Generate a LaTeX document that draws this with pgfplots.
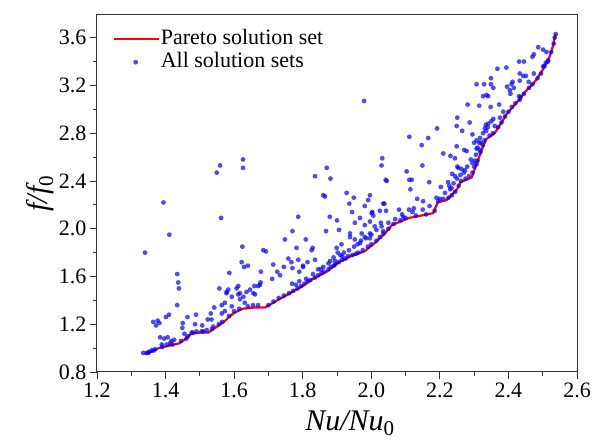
\documentclass[border=0pt]{standalone}
\usepackage{fontspec}
\setmainfont{Liberation Serif}
\usepackage{pgfplots}
\pgfplotsset{compat=1.18}
\begin{document}
\begin{tikzpicture}
\useasboundingbox (-97pt,-69pt) rectangle (495pt,372pt);
\begin{axis}[
  at={(0,0)}, anchor=south west,
  scale only axis, width=480pt, height=357pt,
  xmin=1.2, xmax=2.6, ymin=0.8, ymax=3.79,
  xtick={1.2,1.4,...,2.61}, ytick={0.8,1.2,...,3.61},
  minor x tick num=1, minor y tick num=1,
  xtick pos=bottom, ytick pos=left, tick align=outside,
  major tick length=7pt, minor tick length=4pt,
  axis line style={line width=1pt, black!80},
  every tick/.style={black!80, line width=0.8pt},
  /pgf/number format/assume math mode=true,
  xticklabel style={/pgf/number format/.cd, fixed, fixed zerofill, precision=1},
  yticklabel style={/pgf/number format/.cd, fixed, fixed zerofill, precision=1},
  ticklabel style={font=\fontsize{22}{26}\selectfont},
  xlabel={\fontsize{30}{34}\selectfont\itshape Nu/Nu$_{\mathrm{0}}$},
  ylabel={\fontsize{30}{34}\selectfont\itshape f/f$_{\mathrm{0}}$},
  xlabel style={xshift=13pt, yshift=-6pt},
  ylabel style={yshift=-2pt},
  legend style={draw=none, fill=none, at={(0.03,0.965)}, anchor=north west,
    font=\fontsize{22}{26}\selectfont, row sep=2pt, inner sep=1pt,
    nodes={inner sep=1pt, text depth=4pt, text height=15pt}},
  legend cell align=left,
]
\addplot[red, line width=2.2pt, no markers,
  legend image code/.code={\draw[red, line width=2.2pt] (0pt,0pt) -- (45pt,0pt);}]
coordinates {
(1.340,0.95) (1.360,0.97) (1.380,1.00) (1.410,1.02) (1.440,1.04) (1.455,1.07)
(1.475,1.12) (1.500,1.13) (1.525,1.13) (1.545,1.17) (1.570,1.22) (1.597,1.29)
(1.625,1.33) (1.660,1.34) (1.690,1.34) (1.720,1.39) (1.757,1.45) (1.800,1.52)
(1.830,1.58) (1.870,1.64) (1.900,1.71) (1.940,1.77) (1.980,1.81) (2.010,1.88)
(2.040,1.96) (2.060,2.03) (2.110,2.09) (2.180,2.13) (2.194,2.22) (2.220,2.24)
(2.250,2.33) (2.260,2.39) (2.293,2.43) (2.317,2.62) (2.335,2.75) (2.360,2.80)
(2.395,2.96) (2.428,3.07) (2.450,3.15) (2.477,3.23) (2.500,3.33) (2.520,3.44)
(2.530,3.53) (2.537,3.63)
};
\addlegendentry{Pareto solution set}
\addplot[only marks, mark=*, mark size=2.4pt, color=blue, fill opacity=0.7, draw opacity=0,
  legend image code/.code={\fill[blue, fill opacity=0.7] (22pt,0pt) circle (2.4pt);}]
table {
x y
1.626 2.58
1.559 2.53
1.626 2.51
1.549 2.47
1.394 2.22
1.562 2.09
1.411 1.95
1.340 1.80
1.624 1.85
1.685 1.82
1.622 1.72
1.629 1.68
1.640 1.69
1.434 1.62
1.437 1.55
1.439 1.50
1.434 1.36
1.364 1.22
1.377 1.23
1.372 1.19
1.382 1.21
1.401 1.26
1.410 1.28
1.464 1.26
1.450 1.21
1.449 1.17
1.489 1.28
1.486 1.20
1.455 1.12
1.461 1.08
1.476 1.13
1.490 1.14
1.505 1.14
1.520 1.15
1.507 1.19
1.523 1.24
1.534 1.24
1.532 1.29
1.542 1.34
1.539 1.18
1.557 1.50
1.586 1.63
1.564 1.36
1.573 1.38
1.578 1.46
1.583 1.49
1.593 1.43
1.564 1.29
1.573 1.31
1.593 1.35
1.607 1.50
1.612 1.45
1.617 1.41
1.631 1.38
1.678 1.64
1.659 1.52
1.675 1.53
1.646 1.49
1.656 1.46
1.384 1.09
1.396 1.08
1.406 1.09
1.417 1.06
1.425 1.07
1.389 1.03
1.403 1.03
1.413 1.04
1.350 0.96
1.359 0.98
1.369 0.99
1.335 0.96
1.578 1.47
1.612 1.52
1.617 1.46
1.627 1.43
1.636 1.47
1.661 1.45
1.670 1.52
1.677 1.55
1.693 1.81
1.714 1.70
1.711 1.58
1.726 1.64
1.734 1.61
1.745 1.68
1.748 1.91
1.758 1.75
1.767 1.72
1.770 1.67
1.769 1.54
1.787 2.10
1.782 1.84
1.790 1.64
1.801 1.69
1.809 1.91
1.814 1.72
1.826 1.82
1.829 1.84
1.836 1.74
1.836 2.44
1.860 2.28
1.865 2.27
1.870 2.51
1.881 2.42
1.879 2.10
1.868 1.98
1.900 2.07
1.906 1.99
1.913 1.87
1.899 1.84
1.902 1.80
1.928 2.30
1.936 2.21
1.938 1.93
1.949 2.26
1.996 2.28
1.991 2.24
2.035 2.21
1.981 2.19
1.944 2.14
2.003 2.14
2.006 2.11
1.967 2.09
1.952 2.05
1.981 2.03
1.996 2.06
2.010 2.02
2.028 2.05
1.770 1.98
1.938 1.96
1.972 1.96
1.981 1.93
1.996 1.92
1.952 1.91
1.967 1.88
1.787 1.74
1.894 1.73
1.915 1.77
1.801 1.68
1.853 1.66
1.979 3.07
2.192 2.84
2.251 2.93
2.249 2.86
2.111 2.77
2.166 2.76
2.147 2.70
2.249 2.69
2.210 2.63
2.231 2.61
2.244 2.59
2.032 2.59
2.030 2.53
2.149 2.53
2.251 2.52
2.103 2.48
2.042 2.41
2.111 2.41
2.118 2.41
2.236 2.46
2.244 2.44
2.169 2.39
2.224 2.39
2.203 2.35
2.227 2.36
2.234 2.34
2.114 2.33
2.038 2.21
2.134 2.25
2.151 2.23
2.190 2.26
2.200 2.25
2.025 2.15
2.043 2.15
2.081 2.16
2.110 2.16
2.124 2.17
2.001 2.13
2.093 2.10
1.996 1.96
2.035 1.98
2.045 2.40
2.487 3.52
2.501 3.50
2.511 3.48
2.474 3.46
2.470 3.44
2.516 3.41
2.509 3.39
2.431 3.40
2.445 3.40
2.368 3.34
2.394 3.35
2.501 3.36
2.433 3.30
2.443 3.28
2.451 3.28
2.474 3.30
2.349 3.26
2.433 3.24
2.459 3.23
2.412 3.23
2.349 3.21
2.329 3.21
2.307 3.21
2.396 3.19
2.409 3.21
2.416 3.18
2.404 3.16
2.356 3.18
2.406 3.13
2.326 3.11
2.336 3.12
2.341 3.11
2.431 3.11
2.433 3.08
2.281 3.04
2.315 3.03
2.348 3.02
2.373 3.04
2.287 2.89
2.334 2.87
2.341 2.88
2.350 2.90
2.356 2.92
2.331 2.84
2.265 2.82
2.295 2.79
2.326 2.80
2.317 2.76
2.307 2.74
2.315 2.72
2.300 2.72
2.271 2.66
2.278 2.65
2.307 2.67
2.317 2.66
2.302 2.57
2.295 2.55
2.307 2.54
2.254 2.51
2.263 2.50
2.273 2.49
1.345 0.96
1.352 0.97
1.365 0.98
1.390 1.01
1.420 1.03
1.445 1.06
1.465 1.10
1.480 1.13
1.510 1.14
1.535 1.16
1.555 1.20
1.565 1.22
1.585 1.27
1.600 1.31
1.615 1.33
1.640 1.35
1.655 1.36
1.670 1.36
1.700 1.36
1.715 1.39
1.730 1.42
1.745 1.44
1.760 1.46
1.772 1.48
1.785 1.50
1.795 1.52
1.805 1.54
1.815 1.56
1.822 1.57
1.835 1.59
1.845 1.61
1.855 1.63
1.862 1.64
1.875 1.66
1.882 1.68
1.890 1.69
1.895 1.70
1.905 1.72
1.915 1.74
1.925 1.75
1.932 1.77
1.945 1.78
1.955 1.79
1.962 1.80
1.975 1.82
1.990 1.85
2.000 1.87
2.015 1.90
2.025 1.93
2.035 1.96
2.050 2.00
2.065 2.04
2.085 2.07
2.100 2.09
2.130 2.11
2.160 2.12
2.185 2.15
2.195 2.23
2.210 2.25
2.225 2.26
2.235 2.28
2.245 2.31
2.255 2.36
2.262 2.40
2.275 2.42
2.285 2.44
2.295 2.47
2.300 2.52
2.310 2.57
2.318 2.64
2.325 2.70
2.330 2.74
2.345 2.78
2.355 2.80
2.370 2.85
2.380 2.89
2.390 2.94
2.400 2.98
2.410 3.02
2.420 3.05
2.435 3.10
2.445 3.13
2.460 3.18
2.470 3.21
2.485 3.26
2.495 3.30
2.505 3.36
2.515 3.40
2.525 3.48
2.532 3.55
2.535 3.60
2.538 3.63
1.780 1.53
1.790 1.56
1.810 1.58
1.830 1.62
1.845 1.66
1.860 1.68
1.875 1.71
1.880 1.73
1.890 1.76
1.910 1.78
1.920 1.80
1.935 1.82
1.950 1.85
1.960 1.87
1.970 1.90
1.985 1.92
2.000 1.95
2.015 1.99
2.030 2.02
2.050 2.05
2.070 2.08
2.090 2.12
2.120 2.14
2.150 2.16
2.170 2.19
2.215 2.30
2.230 2.33
2.240 2.38
2.250 2.42
2.260 2.45
2.270 2.47
2.280 2.52
2.290 2.58
2.305 2.62
2.310 2.68
2.320 2.72
2.335 2.82
2.340 2.85
2.360 2.86
2.375 2.93
2.385 2.98
};
\addlegendentry{All solution sets}
\end{axis}
\end{tikzpicture}
\end{document}
